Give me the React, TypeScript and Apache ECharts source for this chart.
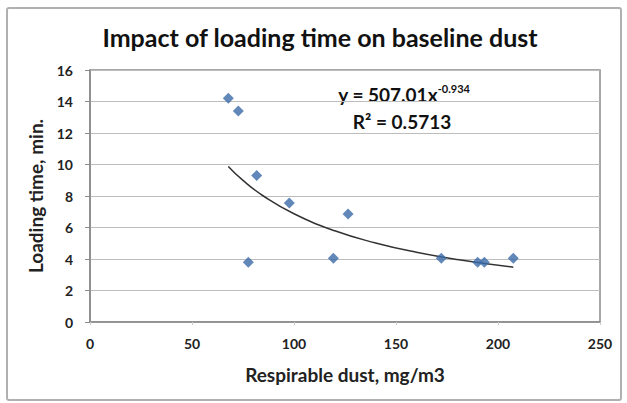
import React, { useEffect, useRef } from "react";
import * as echarts from "echarts";

const dustX = [67.8, 72.7, 81.7, 97.7, 126.5, 77.6, 119.3, 172.2, 190.0, 193.3, 207.5];
const timeY = [14.2, 13.4, 9.3, 7.55, 6.85, 3.8, 4.05, 4.05, 3.8, 3.8, 4.05];

const trendX = [67.8, 75, 85, 100, 120, 140, 160, 180, 207.5];
const trendY = [9.88, 8.99, 8.0, 6.87, 5.79, 5.02, 4.43, 3.97, 3.48];

const xTicks = [0, 50, 100, 150, 200, 250];
const yTicks = [0, 2, 4, 6, 8, 10, 12, 14, 16];

const FONT = "Lato, 'Open Sans', sans-serif";

export default function App() {
  const ref = useRef<HTMLDivElement>(null);
  useEffect(() => {
    if (!ref.current) return;
    const chart = echarts.init(ref.current, undefined, { renderer: "svg" });
    chart.setOption({
      animation: false,
      backgroundColor: "#ffffff",
      grid: {
        left: 90,
        right: 27,
        top: 70,
        bottom: 81,
        show: true,
        borderColor: "#8a8a8a",
        borderWidth: 1.5,
        backgroundColor: "#ffffff",
      },
      xAxis: {
        type: "value",
        min: xTicks[0],
        max: xTicks[xTicks.length - 1],
        interval: 50,
        name: "Respirable dust, mg/m3",
        nameLocation: "middle",
        nameGap: 43,
        nameTextStyle: { fontFamily: FONT, fontWeight: "bold", fontSize: 19, color: "#222" },
        axisLine: { show: true, lineStyle: { color: "#8a8a8a", width: 1.5 } },
        axisTick: { show: true, length: 3, lineStyle: { color: "#cccccc" } },
        axisLabel: { fontFamily: FONT, fontWeight: "bold", fontSize: 14, color: "#222", margin: 14 },
        splitLine: { show: false },
      },
      yAxis: {
        type: "value",
        min: yTicks[0],
        max: yTicks[yTicks.length - 1],
        interval: 2,
        name: "Loading time, min.",
        nameLocation: "middle",
        nameGap: 45,
        nameRotate: 90,
        nameTextStyle: { fontFamily: FONT, fontWeight: "bold", fontSize: 19, color: "#222" },
        axisLine: { show: true, lineStyle: { color: "#8a8a8a", width: 1.5 } },
        axisTick: { show: true, length: 5, lineStyle: { color: "#8a8a8a" } },
        axisLabel: { fontFamily: FONT, fontWeight: "bold", fontSize: 14, color: "#222", margin: 17 },
        splitLine: { show: true, lineStyle: { color: "#bdbdbd", width: 1 } },
      },
      series: [
        {
          type: "line",
          data: trendX.map((x, i) => [x, trendY[i]]),
          smooth: true,
          showSymbol: false,
          lineStyle: { color: "#333333", width: 1.5 },
          z: 2,
        },
        {
          type: "scatter",
          data: dustX.map((x, i) => [x, timeY[i]]),
          symbol: "diamond",
          symbolSize: 11,
          itemStyle: { color: "#3a6aa8" },
          z: 3,
        },
      ],
      graphic: [
        {
          type: "rect",
          shape: { x: 7, y: 8, width: 614, height: 392, r: 2 },
          style: { fill: "none", stroke: "#b0b0b0", lineWidth: 2 },
          z: 0,
          silent: true,
        },
        {
          type: "text",
          x: 320,
          y: 37,
          style: {
            text: "Impact of loading time on baseline dust",
            fontFamily: FONT,
            fontWeight: "bold",
            fontSize: 25,
            fill: "#111",
            align: "center",
            verticalAlign: "middle",
          },
        },
        {
          type: "text",
          x: 404,
          y: 94,
          style: {
            text: "{a|y = 507.01x}{b|-0.934}",
            rich: {
              a: { fontFamily: FONT, fontWeight: "bold", fontSize: 19, fill: "#111", color: "#111" },
              b: { fontFamily: FONT, fontWeight: "bold", fontSize: 11, fill: "#111", color: "#111", verticalAlign: "top", padding: [0, 0, 11, 0] },
            },
            align: "center",
            verticalAlign: "middle",
          },
        },
        {
          type: "text",
          x: 402,
          y: 121,
          style: {
            text: "R² = 0.5713",
            fontFamily: FONT,
            fontWeight: "bold",
            fontSize: 19,
            fill: "#111",
            align: "center",
            verticalAlign: "middle",
          },
        },
      ],
    });
    return () => chart.dispose();
  }, []);
  return <div ref={ref} style={{ width: 627, height: 403, position: "absolute", left: 0, top: 0 }} />;
}
